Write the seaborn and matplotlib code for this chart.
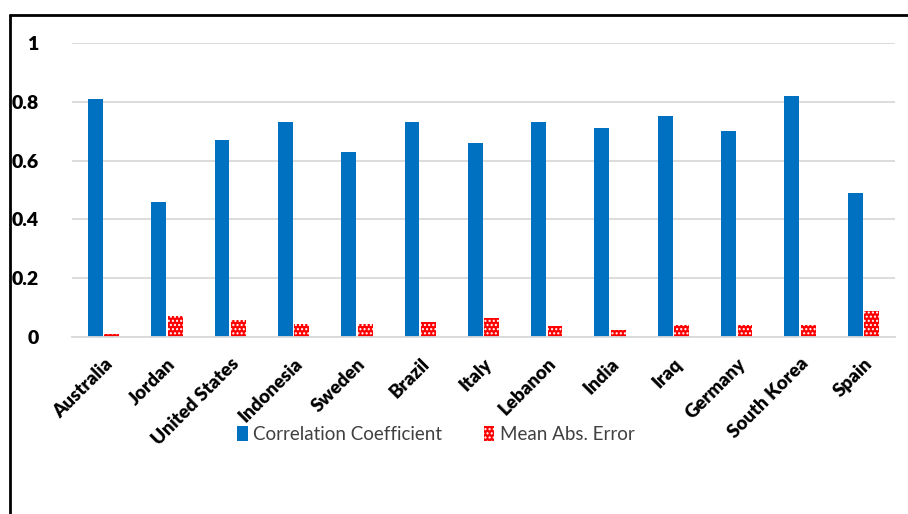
import matplotlib
matplotlib.use("Agg")
import matplotlib.pyplot as plt
import seaborn as sns
import pandas as pd
from matplotlib.lines import Line2D

countries = ["Australia", "Jordan", "United States", "Indonesia", "Sweden", "Brazil",
             "Italy", "Lebanon", "India", "Iraq", "Germany", "South Korea", "Spain"]
corr = [0.81, 0.46, 0.67, 0.73, 0.63, 0.73, 0.66, 0.73, 0.71, 0.75, 0.70, 0.82, 0.49]
mae = [0.01, 0.071, 0.059, 0.044, 0.044, 0.051, 0.065, 0.037, 0.024, 0.041, 0.041, 0.041, 0.088]
series = ["Correlation Coefficient", "Mean Abs. Error"]
yticks = [0, 0.2, 0.4, 0.6, 0.8, 1]
ytick_labels = ["0", "0.2", "0.4", "0.6", "0.8", "1"]

df = pd.DataFrame({
    "country": countries * 2,
    "value": corr + mae,
    "series": [series[0]] * len(countries) + [series[1]] * len(countries),
})

sns.set_theme(style="white")
plt.rcParams["font.family"] = ["Lato", "DejaVu Sans"]
plt.rcParams["hatch.color"] = "white"
plt.rcParams["hatch.linewidth"] = 1.0

fig = plt.figure(figsize=(9.08, 5.14), dpi=100)
ax = fig.add_axes([0.0793, 0.3444, 0.9064, 0.5720])

sns.barplot(data=df, x="country", y="value", hue="series", order=countries,
            hue_order=series, palette=["#0070C0", "#FF0000"], width=0.52, gap=0.1,
            ax=ax, legend=True, saturation=1)

n = len(countries)
for i, p in enumerate(ax.patches):
    p.set_linewidth(0)
    if i >= n and i < 2 * n:
        p.set_hatch("....")
        p.set_edgecolor("white")

ax.set_ylim(0, 1)
ax.set_xlim(-0.5, n - 0.5)
ax.set_yticks(yticks)
ax.set_yticklabels(ytick_labels, fontsize=14, fontweight="heavy", color="black")
ax.set_xticks(range(n))
ax.set_xticklabels(countries, rotation=45, ha="right", rotation_mode="anchor",
                   fontsize=13.5, fontweight="heavy", color="black")
ax.tick_params(axis="y", length=0, pad=24)
ax.tick_params(axis="x", length=0, pad=13)
ax.set_xlabel("")
ax.set_ylabel("")
ax.yaxis.grid(True, color="#D9D9D9", linewidth=1.3)
ax.set_axisbelow(True)
for s in ["left", "right", "top"]:
    ax.spines[s].set_visible(False)
ax.spines["bottom"].set_color("#D9D9D9")
ax.spines["bottom"].set_linewidth(1.3)

handles, labels = ax.get_legend_handles_labels()
for h in handles[1:]:
    h.set_hatch("....")
    h.set_edgecolor("white")
ax.legend_.remove()
fig.legend(handles, labels, loc="center", bbox_to_anchor=(0.48, 0.155), ncol=2,
           frameon=False, fontsize=13.5, handlelength=0.55, handleheight=0.9,
           handletextpad=0.3, columnspacing=2.2, labelcolor="#404040")

# outer frame
fig.add_artist(Line2D([0.011, 0.011], [0.0, 0.971], transform=fig.transFigure,
                      color="black", linewidth=2))
fig.add_artist(Line2D([0.011, 1.0], [0.971, 0.971], transform=fig.transFigure,
                      color="black", linewidth=2))

fig.savefig("out.png", dpi=100)
